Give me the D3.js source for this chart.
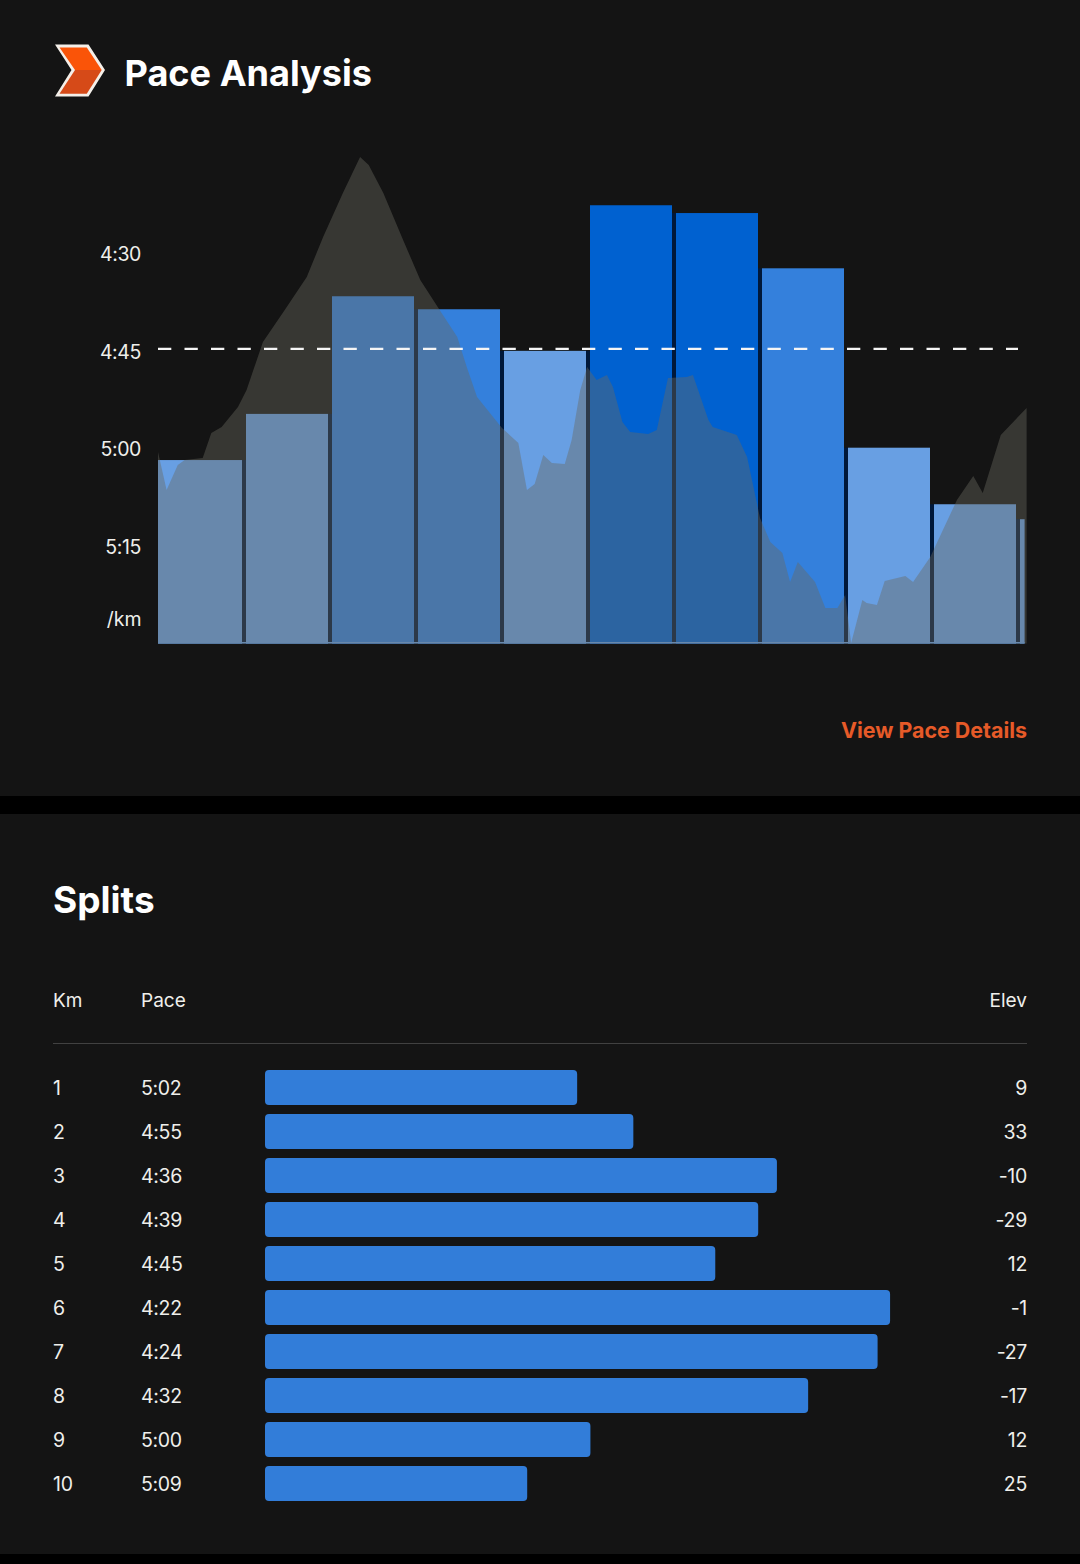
<!DOCTYPE html>
<html>
<head>
<meta charset="utf-8">
<script src="https://cdn.jsdelivr.net/npm/d3@7"></script>
<style>
html,body{margin:0;padding:0;background:#000;}
svg{display:block;}
text{font-family:Inter,"Noto Sans",sans-serif;}
</style>
</head>
<body>
<svg id="chart" width="1080" height="1564"></svg>
<script>
// --- data ---
const paceTicks = [270, 285, 300, 315];              // seconds per km on the axis
const averagePace = 284.6;
const kmStart = [0,1,2,3,4,5,6,7,8,9,10];
const kmEnd   = [1,2,3,4,5,6,7,8,9,10,10.1];
const chartPace = [301.7,294.6,276.5,278.5,284.9,262.5,263.7,272.2,299.8,308.5,310.8];
const elevKm = [0,.10,.23,.31,.52,.62,.74,.93,1.03,1.22,1.45,1.73,1.92,2.15,2.35,2.45,2.62,2.85,3.05,3.26,3.48,3.59,3.71,4.0,4.19,4.29,4.38,4.48,4.58,4.73,4.81,4.91,4.99,5.10,5.22,5.29,5.40,5.49,5.70,5.80,5.93,6.15,6.22,6.40,6.45,6.73,6.85,7.0,7.12,7.26,7.35,7.44,7.64,7.76,7.90,7.99,8.06,8.19,8.24,8.36,8.45,8.69,8.78,8.98,9.29,9.48,9.59,9.80,10.10];
const elevM  = [38.2,30.6,35.6,36.6,37,42,43.2,47.2,50.6,60.2,66,73.2,81.2,90,97.2,95.6,90,80.6,72.6,67,61.2,55.2,49.2,43,40,30.6,31.8,37.6,36,35.8,40.6,50.6,55.2,52.6,53.6,51.2,44.2,42.2,41.8,42.6,53,53.2,53.6,44.6,43.2,41.6,37.2,25,20.2,18,12.2,16.2,12.2,7,7,9.6,0,8.6,8,7.6,12.4,13.4,12.2,17.2,28.6,33.4,30,41.6,47];

const splitKm   = ["1","2","3","4","5","6","7","8","9","10"];
const splitPace = ["5:02","4:55","4:36","4:39","4:45","4:22","4:24","4:32","5:00","5:09"];
const splitSecs = [302,294.8,276.4,278.8,284.3,261.9,263.5,272.4,300.3,308.4];
const splitElev = ["9","33","-10","-29","12","-1","-27","-17","12","25"];

// --- layout ---
const svg = d3.select("#chart");
const bg = "#141414", light = "#689fe3", mid = "#3480dc", dark = "#0061d0", navy = "#00183a";
const textCol = "#efefeb";

svg.append("rect").attr("x",0).attr("y",0).attr("width",1080).attr("height",796).attr("fill",bg);
svg.append("rect").attr("x",0).attr("y",814).attr("width",1080).attr("height",740).attr("fill",bg);

// logo
const logo = svg.append("g");
logo.append("polygon").attr("points","55,44.5 88.5,44.5 105,70 88.5,96.5 55,96.5 71.5,70").attr("fill","#f4efe9");
logo.append("polygon").attr("points","59.5,47.5 86.8,47.5 101.7,70 75,70").attr("fill","#fa5408");
logo.append("polygon").attr("points","75,70 101.7,70 86.8,93.8 59.5,93.8").attr("fill","#d64a18");

svg.append("text").attr("x",124.5).attr("y",86).attr("font-size",36.1).attr("font-weight",700).attr("fill","#fff").text("Pace Analysis");

// pace chart
const x = d3.scaleLinear().domain([0,10.1]).range([158,1026.6]);
const y = d3.scaleLinear().domain([270,300]).range([254,449]);
const base = 643.5, gapBottom = 642, inset = 2;
const color = d3.scaleThreshold().domain([270,284]).range([dark,mid,light]);
const bars = kmStart.map((s,i)=>({s,e:kmEnd[i],p:chartPace[i],i}));

// dark slots between neighbouring bars
svg.append("g").selectAll("rect").data(bars.slice(0,-1)).join("rect")
  .attr("x",d=>x(d.e)-inset).attr("width",inset*2)
  .attr("y",d=>Math.max(y(d.p),y(bars[d.i+1].p)))
  .attr("height",d=>gapBottom-Math.max(y(d.p),y(bars[d.i+1].p)))
  .attr("fill",navy);

svg.append("g").selectAll("rect").data(bars).join("rect")
  .attr("x",d=>d.i===0?x(d.s):x(d.s)+inset)
  .attr("width",d=>x(d.e)-inset-(d.i===0?x(d.s):x(d.s)+inset))
  .attr("y",d=>y(d.p))
  .attr("height",d=>base-y(d.p))
  .attr("fill",d=>color(d.p));

// lighter strip along the baseline
svg.append("rect").attr("x",x(0)).attr("y",gapBottom).attr("width",x(10.1)-inset-x(0)).attr("height",base-gapBottom).attr("fill",light);

// elevation area
const yE = d3.scaleLinear().domain([0,97.2]).range([643,157]);
const area = d3.area().x(d=>x(d[0])).y0(base).y1(d=>yE(d[1]));
svg.append("path").datum(elevKm.map((k,i)=>[k,elevM[i]])).attr("d",area).attr("fill","#6a6a60").attr("fill-opacity",0.42);

// average line
svg.append("line").attr("x1",x(0)).attr("x2",1018).attr("y1",y(averagePace)).attr("y2",y(averagePace))
  .attr("stroke","#f5f5f5").attr("stroke-width",2.4).attr("stroke-dasharray","13.3 13.2");

// pace axis
const fmt = s=>Math.floor(s/60)+":"+String(s%60).padStart(2,"0");
const axis = d3.axisLeft(y).tickValues(paceTicks).tickFormat(fmt).tickSize(0).tickPadding(0);
const axG = svg.append("g").attr("transform","translate(141,0.5)").call(axis);
axG.select(".domain").remove();
axG.selectAll("text").attr("font-size",19.5).attr("letter-spacing",-0.4).attr("fill",textCol).style("font-family",'Inter,"Noto Sans",sans-serif');
svg.append("text").attr("x",141.5).attr("y",626).attr("text-anchor","end").attr("font-size",19.5).attr("fill",textCol).text("/km");

svg.append("text").attr("x",1027).attr("y",738).attr("text-anchor","end").attr("font-size",21.4).attr("font-weight",700).attr("fill","#e65a28").text("View Pace Details");

// splits
svg.append("text").attr("x",53).attr("y",913).attr("font-size",37).attr("font-weight",700).attr("fill","#fff").text("Splits");
const hdr = [["Km",53,"start"],["Pace",141,"start"],["Elev",1027,"end"]];
svg.append("g").selectAll("text").data(hdr).join("text")
  .attr("x",d=>d[1]).attr("y",1007).attr("text-anchor",d=>d[2]).attr("font-size",19).attr("fill",textCol).text(d=>d[0]);
svg.append("line").attr("x1",53).attr("x2",1027).attr("y1",1043.5).attr("y2",1043.5).attr("stroke","#414141").attr("stroke-width",1);

const rowY = d3.scaleBand().domain(splitKm).range([1066,1506]);
const barW = d3.scaleLinear().domain([342,262]).range([0,624.3]);
const rows = svg.append("g").selectAll("g").data(splitKm).join("g")
  .attr("transform",d=>`translate(0,${rowY(d)+rowY.bandwidth()/2})`);
const rowFont = 19.5, rowSpace = -0.3;
rows.append("text").attr("x",53).attr("y",7).attr("font-size",rowFont).attr("letter-spacing",rowSpace).attr("fill",textCol).text(d=>d);
rows.append("text").attr("x",141).attr("y",7).attr("font-size",rowFont).attr("letter-spacing",rowSpace).attr("fill",textCol).text((d,i)=>splitPace[i]);
rows.append("rect").attr("x",265).attr("y",-18).attr("height",35).attr("rx",4)
  .attr("width",(d,i)=>barW(splitSecs[i])).attr("fill","#327dd9");
rows.append("text").attr("x",1027).attr("y",7).attr("text-anchor","end").attr("font-size",rowFont).attr("letter-spacing",rowSpace).attr("fill",textCol).text((d,i)=>splitElev[i]);
</script>
</body>
</html>
